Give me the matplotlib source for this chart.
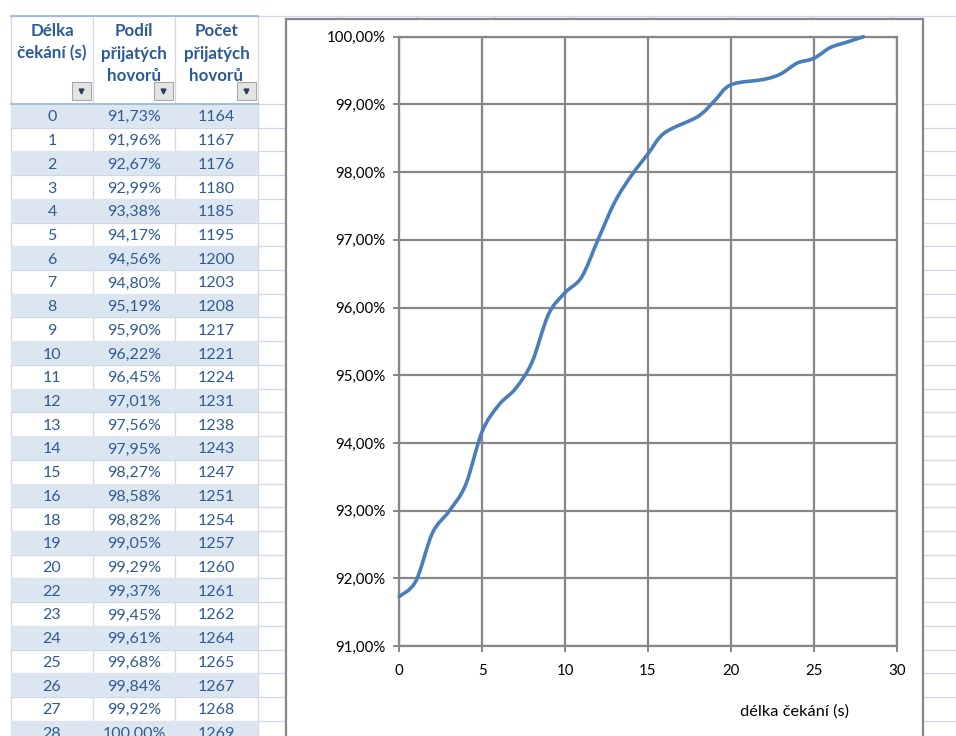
import matplotlib
matplotlib.use("Agg")
import matplotlib.pyplot as plt
from matplotlib.patches import Rectangle, PathPatch
from matplotlib.path import Path
from matplotlib.ticker import FuncFormatter, MultipleLocator

plt.rcParams['font.family'] = ['Lato', 'DejaVu Sans']

# ---- data ----
wait_s = [0, 1, 2, 3, 4, 5, 6, 7, 8, 9, 10, 11, 12, 13, 14, 15, 16, 18, 19, 20,
          22, 23, 24, 25, 26, 27, 28]
share_pct = [91.73, 91.96, 92.67, 92.99, 93.38, 94.17, 94.56, 94.80, 95.19, 95.90,
             96.22, 96.45, 97.01, 97.56, 97.95, 98.27, 98.58, 98.82, 99.05, 99.29,
             99.37, 99.45, 99.61, 99.68, 99.84, 99.92, 100.00]
calls = [1164, 1167, 1176, 1180, 1185, 1195, 1200, 1203, 1208, 1217, 1221, 1224,
         1231, 1238, 1243, 1247, 1251, 1254, 1257, 1260, 1261, 1262, 1264, 1265,
         1267, 1268, 1269]
headers = ["Délka\nčekání (s)", "Podíl\npřijatých\nhovorů", "Počet\npřijatých\nhovorů"]
x_label = "délka čekání (s)"

W, H = 956, 736
fig = plt.figure(figsize=(W / 100, H / 100), dpi=100)

# ---- spreadsheet background (pixel coordinates) ----
bg = fig.add_axes([0, 0, 1, 1])
bg.set_xlim(0, W)
bg.set_ylim(H, 0)
bg.axis('off')

grid_c = '#D0D7E5'
head_top, head_bot, row_h = 16, 104, 23.72
col_edges = [11, 93, 175, 258]
sheet_cols = [11, 93, 175, 258, 337, 416, 495, 574, 653, 733, 812, 891]

# horizontal sheet gridlines
ys = [head_top, head_bot] + [head_bot + row_h * k for k in range(1, 30)]
for y in ys:
    bg.plot([11, W], [y, y], color=grid_c, lw=0.9, zorder=1)
for x in sheet_cols:
    bg.plot([x, x], [head_top, H], color=grid_c, lw=0.9, zorder=1)

# striped rows
for i in range(len(wait_s)):
    y0 = head_bot + i * row_h
    if i % 2 == 0:
        bg.add_patch(Rectangle((col_edges[0], y0), col_edges[-1] - col_edges[0], row_h,
                               facecolor='#DCE6F1', edgecolor='none', zorder=2))
# header borders
bg.plot([col_edges[0], col_edges[-1]], [head_top, head_top], color='#95B3D7', lw=1.2, zorder=3)
bg.plot([col_edges[0], col_edges[-1]], [head_bot, head_bot], color='#95B3D7', lw=1.2, zorder=3)

head_col = '#2C5A94'
body_col = '#2F5B95'
centers = [(col_edges[j] + col_edges[j + 1]) / 2 for j in range(3)]
for j, h in enumerate(headers):
    lines = h.split("\n")
    for k, ln in enumerate(lines):
        bg.text(centers[j], 31 + k * 22.5, ln, ha='center', va='center', fontsize=12.2,
                fontweight='bold', color=head_col, zorder=4)
    # filter dropdown button
    bx = col_edges[j + 1] - 21
    bg.add_patch(Rectangle((bx, 82), 19, 18, facecolor='#E4E4E4', edgecolor='#A8A8A8',
                           lw=0.8, zorder=4))
    bg.plot([bx + 9.5], [91], marker='v', markersize=3.5, color='#2A3F5F', zorder=5)

for i in range(len(wait_s)):
    yc = head_bot + (i + 0.5) * row_h + 1.5
    bg.text(centers[0], yc, f"{wait_s[i]}", ha='center', va='center', fontsize=11.5,
            color=body_col, zorder=4)
    bg.text(centers[1], yc, f"{share_pct[i]:.2f}%".replace('.', ','), ha='center',
            va='center', fontsize=11.5, color=body_col, zorder=4)
    bg.text(centers[2], yc, f"{calls[i]}", ha='center', va='center', fontsize=11.5,
            color=body_col, zorder=4)

# chart frame
bg.add_patch(Rectangle((286, 19), 923 - 286, H + 10 - 19, facecolor='white',
                       edgecolor='#878787', lw=1.6, zorder=6))
bg.text(795, 712, x_label, ha='center', va='center', fontsize=11.8, color='black', zorder=7)

# ---- chart ----
ax_l, ax_r, ax_t, ax_b = 399.3, 896.7, 36.7, 646.0
ax = fig.add_axes([ax_l / W, 1 - ax_b / H, (ax_r - ax_l) / W, (ax_b - ax_t) / H], zorder=8)
ax.set_facecolor('none')
ax.set_xlim(0, 30)
ax.set_ylim(91, 100)
ax.xaxis.set_major_locator(MultipleLocator(5))
ax.yaxis.set_major_locator(MultipleLocator(1))
ax.yaxis.set_major_formatter(FuncFormatter(lambda v, p: f"{v:.2f}%".replace('.', ',')))
gc = '#878787'
ax.grid(True, color=gc, lw=1.6)
for s in ax.spines.values():
    s.set_color(gc)
    s.set_linewidth(1.6)
ax.tick_params(axis='both', direction='out', length=4, width=1.4, color=gc,
               labelsize=10.8, labelcolor='black')
ax.tick_params(axis='y', pad=6)
ax.tick_params(axis='x', pad=9)
ax.set_axisbelow(True)

# smoothed line (Catmull-Rom style Bezier, like Excel's smoothed scatter)
pts = list(zip(wait_s, share_pct))
n = len(pts)
verts = [pts[0]]
codes = [Path.MOVETO]
for i in range(n - 1):
    p0 = pts[i - 1] if i > 0 else pts[i]
    p1 = pts[i]
    p2 = pts[i + 1]
    p3 = pts[i + 2] if i + 2 < n else pts[i + 1]
    c1 = (p1[0] + (p2[0] - p0[0]) / 6, p1[1] + (p2[1] - p0[1]) / 6)
    c2 = (p2[0] - (p3[0] - p1[0]) / 6, p2[1] - (p3[1] - p1[1]) / 6)
    verts += [c1, c2, p2]
    codes += [Path.CURVE4] * 3
ax.add_patch(PathPatch(Path(verts, codes), facecolor='none', edgecolor='#4A7EBB',
                       lw=2.6, capstyle='round', joinstyle='round', zorder=5, clip_on=False))

fig.savefig("out.png", dpi=100)
